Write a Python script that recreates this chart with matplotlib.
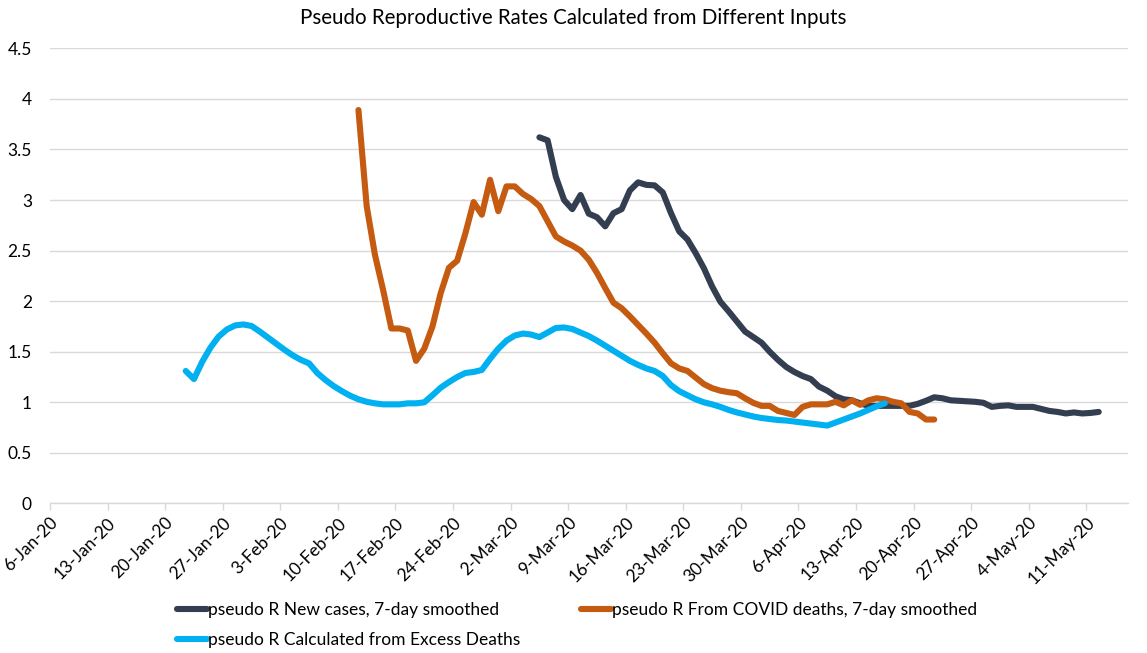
import matplotlib
matplotlib.use("Agg")
import matplotlib.pyplot as plt
import matplotlib.ticker as mticker
import numpy as np
import pandas as pd

# pseudo R series, one value per day
cases_start = "2020-03-05"
cases_r = [
    3.62, 3.59, 3.23, 3.00, 2.91, 3.05, 2.865, 2.83, 2.74, 2.87,
    2.91, 3.095, 3.175, 3.15, 3.145, 3.075, 2.87, 2.69, 2.61, 2.475,
    2.325, 2.145, 1.995, 1.90, 1.80, 1.70, 1.645, 1.59, 1.50, 1.42,
    1.35, 1.30, 1.26, 1.23, 1.155, 1.115, 1.06, 1.03, 1.02, 0.99,
    0.965, 0.965, 0.965, 0.965, 0.965, 0.965, 0.985, 1.015, 1.05, 1.04,
    1.02, 1.015, 1.01, 1.005, 0.995, 0.955, 0.965, 0.97, 0.955, 0.955,
    0.955, 0.935, 0.915, 0.905, 0.89, 0.90, 0.89, 0.895, 0.905,
]

deaths_start = "2020-02-12"
deaths_r = [
    3.89, 2.94, 2.46, 2.11, 1.73, 1.73, 1.71, 1.41, 1.53, 1.75,
    2.08, 2.33, 2.40, 2.67, 2.98, 2.855, 3.20, 2.89, 3.135, 3.135,
    3.06, 3.01, 2.94, 2.79, 2.64, 2.59, 2.55, 2.50, 2.41, 2.28,
    2.13, 1.985, 1.93, 1.85, 1.765, 1.68, 1.59, 1.485, 1.385, 1.335,
    1.31, 1.245, 1.18, 1.14, 1.115, 1.10, 1.09, 1.04, 0.995, 0.965,
    0.965, 0.915, 0.895, 0.875, 0.955, 0.98, 0.98, 0.98, 1.005, 0.97,
    1.02, 0.975, 1.02, 1.04, 1.03, 1.005, 0.99, 0.905, 0.89, 0.83,
    0.83,
]

excess_start = "2020-01-22"
excess_r = [
    1.31, 1.23, 1.40, 1.54, 1.65, 1.72, 1.76, 1.77, 1.755, 1.70,
    1.64, 1.58, 1.52, 1.465, 1.42, 1.385, 1.29, 1.22, 1.16, 1.11,
    1.065, 1.03, 1.005, 0.99, 0.98, 0.98, 0.98, 0.99, 0.99, 1.00,
    1.07, 1.145, 1.20, 1.25, 1.29, 1.30, 1.32, 1.43, 1.53, 1.61,
    1.66, 1.68, 1.67, 1.645, 1.69, 1.735, 1.74, 1.725, 1.69, 1.655,
    1.61, 1.56, 1.51, 1.46, 1.41, 1.37, 1.335, 1.31, 1.26, 1.17,
    1.11, 1.07, 1.03, 1.00, 0.98, 0.955, 0.925, 0.90, 0.88, 0.86,
    0.845, 0.835, 0.825, 0.82, 0.81, 0.80, 0.79, 0.78, 0.77, 0.80,
    0.83, 0.86, 0.89, 0.925, 0.96, 0.99,
]

labels = [
    "pseudo R New cases, 7-day smoothed",
    "pseudo R From COVID deaths, 7-day smoothed",
    "pseudo R Calculated from Excess Deaths",
]
colors = ["#333F50", "#C55A11", "#00B0F0"]

plt.rcParams["font.family"] = ["Lato", "DejaVu Sans"]


def day_positions(start, n):
    # Excel date axis with points placed between tick marks
    return pd.date_range(start, periods=n, freq="D") + pd.Timedelta(hours=12)


fig = plt.figure(figsize=(11.47, 6.53), dpi=100)
ax = fig.add_axes([0.0436, 0.229, 0.9394, 0.697])

series = [(cases_start, cases_r), (deaths_start, deaths_r), (excess_start, excess_r)]
lines = []
for (start, vals), lab, col in zip(series, labels, colors):
    ln, = ax.plot(day_positions(start, len(vals)), vals, color=col, lw=4.4,
                  solid_capstyle="round", solid_joinstyle="round", label=lab)
    lines.append(ln)

ax.set_ylim(0, 4.5)
ax.set_xlim(pd.Timestamp("2020-01-06"), pd.Timestamp("2020-05-16"))
ax.yaxis.set_major_locator(mticker.MultipleLocator(0.5))
ax.yaxis.set_major_formatter(mticker.FuncFormatter(lambda v, p: f"{v:g}"))

week_ticks = pd.date_range("2020-01-06", "2020-05-11", freq="7D")
ax.set_xticks(week_ticks)
ax.set_xticklabels([f"{d.day}-{d:%b-%y}" for d in week_ticks],
                   rotation=45, ha="right", rotation_mode="anchor")

ax.grid(axis="y", color="#D9D9D9", lw=1.0)
ax.set_axisbelow(True)
for side in ["top", "right", "left"]:
    ax.spines[side].set_visible(False)
ax.spines["bottom"].set_color("#D9D9D9")
ax.spines["bottom"].set_linewidth(1.0)
ax.tick_params(axis="x", length=5, width=1.0, color="#D9D9D9", labelsize=12.5,
               pad=3, labelcolor="black")
ax.tick_params(axis="y", length=0, labelsize=12.5, pad=13, labelcolor="black")

fig.suptitle("Pseudo Reproductive Rates Calculated from Different Inputs",
             fontsize=14.8, y=0.988, x=0.5)

fig.legend([lines[0], lines[2], lines[1]], [labels[0], labels[2], labels[1]],
           ncol=2, loc="upper left", bbox_to_anchor=(0.148, 0.089),
           frameon=False, fontsize=12.5, handlelength=1.75, handletextpad=0.05,
           columnspacing=3.5, labelspacing=0.8, borderaxespad=0)

fig.savefig("out.png", dpi=100)
